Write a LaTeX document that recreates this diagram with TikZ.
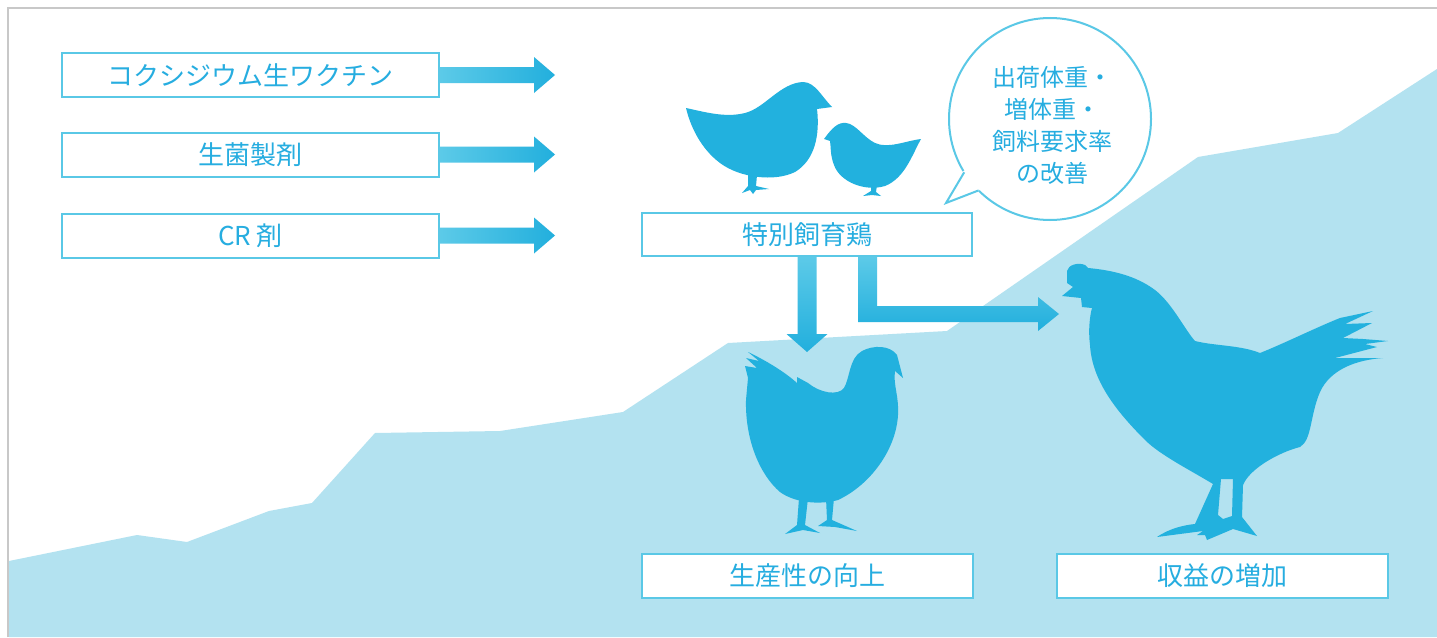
\documentclass[tikz,border=0pt]{standalone}
\usepackage{fontspec}
\setmainfont{Noto Sans CJK JP}
\usetikzlibrary{calc}
\definecolor{sky}{HTML}{B3E2F0}
\definecolor{bird}{HTML}{22B1DE}
\definecolor{ink}{HTML}{26ADE0}
\definecolor{edge}{HTML}{5AC8E6}
\definecolor{light}{HTML}{5CCAE8}
\definecolor{deep}{HTML}{22AFDD}
\definecolor{framegray}{HTML}{C8C8C8}
\begin{document}
\begin{tikzpicture}[x=1pt,y=-1pt,
  labelbox/.style={draw=edge, line width=2pt, fill=white, inner sep=0pt,
    minimum height=44pt, text=ink, font=\fontsize{26}{30}\selectfont},
  harrow/.style={left color=light, right color=deep},
  varrow/.style={top color=light, bottom color=deep},
  silhouette/.style={fill=bird}]
\useasboundingbox (0,0) rectangle (1437,637);
\fill[white] (0,0) rectangle (1437,637);

% rising background slope
\fill[sky] (9,561) -- (137,535) -- (187,542) -- (269,511) -- (312,503)
  -- (375,433) -- (500,431) -- (623,412) -- (728,343) -- (947,331)
  -- (1198,157) -- (1338,133) -- (1437,69) -- (1437,637) -- (9,637) -- cycle;

% frame on the left and top
\draw[framegray, line width=2pt] (8,637) -- (8,8) -- (1437,8);

% inputs
\node[labelbox, minimum width=377pt] (vac) at (250.5,75) {コクシジウム生ワクチン};
\node[labelbox, minimum width=377pt] (pro) at (250.5,154.5) {生菌製剤};
\node[labelbox, minimum width=377pt] (cr)  at (250.5,235.5) {CR 剤};
\foreach \n in {vac,pro,cr}
  \shade[harrow] ($(\n.east)+(0,-8)$) -- ++(94,0) -- ++(0,-10) -- ++(21,18)
    -- ++(-21,18) -- ++(0,-10) -- ++(-94,0) -- cycle;

% central box
\node[labelbox, minimum width=330pt, minimum height=43pt] (spec) at (807,234.5) {特別飼育鶏};

% arrow down to the hen
\shade[varrow] ($(spec.south)+(-9.5,0)$) -- ++(0,77) -- ++(-11,0) -- ++(20.5,18)
  -- ++(20.5,-18) -- ++(-11,0) -- ++(0,-77) -- cycle;
% bent arrow to the rooster
\shade[varrow] ($(spec.south)+(51,0)$) -- ++(19,0) -- ++(0,49) -- ++(161,0)
  -- ++(0,-9) -- ++(21,17) -- ++(-21,17) -- ++(0,-9) -- ++(-180,0) -- cycle;

% outcome boxes
\node[labelbox, minimum width=331pt] (prod) at (807.5,576) {生産性の向上};
\node[labelbox, minimum width=331pt] (gain) at (1222.5,576) {収益の増加};

% speech bubble
\node[circle, draw=edge, line width=2pt, fill=white, minimum size=202pt, inner sep=0pt] (bub) at (1050,119) {};
\fill[white] ($(bub.center)+(-88,53)$) -- ($(bub.center)+(-104,84)$)
  -- ($(bub.center)+(-73,74)$) -- ($(bub.center)+(-68,68)$) -- ($(bub.center)+(-83,50)$) -- cycle;
\draw[edge, line width=2pt] ($(bub.center)+(-85.8,53.3)$) -- ($(bub.center)+(-104,84)$)
  -- ($(bub.center)+(-71.4,71.4)$);
\node[text=ink, align=center, font=\fontsize{24}{32}\selectfont] (bubtxt) at (1052,125)
  {出荷体重・\\増体重・\\飼料要求率\\の改善};

% large chick
\fill[silhouette] (686,108) .. controls (705,112) and (725,118) .. (745,113)
  .. controls (765,108) and (780,83) .. (803,82)
  .. controls (815,82) and (822,97) .. (832,107) -- (817,109)
  .. controls (820,135) and (815,160) .. (795,172)
  .. controls (775,182) and (740,178) .. (720,163)
  .. controls (700,148) and (690,125) .. (686,108) -- cycle;
\fill[silhouette] (748,175) -- (757,175) -- (756,186) -- (769,189) -- (756,190)
  -- (753,194) -- (750,190) -- (742,193) -- (748,186) -- cycle;

% small chick
\fill[silhouette] (824,139) .. controls (832,128) and (838,122) .. (846,123)
  .. controls (856,124) and (863,137) .. (875,143)
  .. controls (888,149) and (905,141) .. (921,139)
  .. controls (912,155) and (905,178) .. (885,186)
  .. controls (865,192) and (840,182) .. (834,165)
  .. controls (830,155) and (831,146) .. (830,141) -- cycle;
\fill[silhouette] (871,185) -- (877,185) -- (876,192) -- (881,196) -- (872,195)
  -- (863,196) -- (871,191) -- cycle;

% hen
\fill[silhouette] (748,352) .. controls (765,360) and (785,372) .. (797,383)
  -- (797,377) -- (808,383)
  .. controls (820,393) and (838,396) .. (844,388)
  .. controls (850,378) and (849,358) .. (862,351)
  .. controls (873,345) and (890,345) .. (897,355)
  -- (903,378) -- (895,371)
  .. controls (893,385) and (899,395) .. (898,415)
  .. controls (896,450) and (870,485) .. (838,500)
  .. controls (820,505) and (795,503) .. (780,492)
  .. controls (760,475) and (745,440) .. (746,400)
  -- (748,378) -- (745,366) -- (757,368) -- (746,358) -- (759,361) -- cycle;
\fill[silhouette] (799,498) -- (808,498) -- (805,525) -- (820,533) -- (803,530)
  -- (785,534) -- (797,525) -- cycle;
\fill[silhouette] (826,498) -- (834,498) -- (832,520) -- (857,531) -- (835,527)
  -- (818,526) -- (827,520) -- cycle;

% rooster
\fill[silhouette, even odd rule] (1067,271) .. controls (1068,265) and (1078,262) .. (1085,265) -- (1088,268)
  .. controls (1110,270) and (1135,275) .. (1155,290)
  .. controls (1172,303) and (1185,330) .. (1195,341)
  .. controls (1215,346) and (1240,345) .. (1260,353)
  .. controls (1285,343) and (1315,328) .. (1340,318)
  -- (1373,311) -- (1345,324) -- (1372,323) -- (1343,338) -- (1363,339)
  -- (1388,341) -- (1365,344) -- (1377,347) -- (1335,358) -- (1383,358)
  .. controls (1355,360) and (1330,370) .. (1320,392)
  .. controls (1310,415) and (1312,440) .. (1300,447)
  .. controls (1280,452) and (1250,468) .. (1243,485)
  -- (1242,517) -- (1257,536) -- (1233,529) -- (1207,540) -- (1205,535)
  -- (1197,535) -- (1203,531) -- (1157,537)
  .. controls (1170,528) and (1185,525) .. (1195,524)
  -- (1213,484)
  .. controls (1190,470) and (1160,455) .. (1145,440)
  .. controls (1115,410) and (1092,380) .. (1090,345)
  .. controls (1088,330) and (1090,315) .. (1092,308)
  -- (1082,307) -- (1081,298) -- (1062,296) -- (1073,287) -- (1067,283) -- cycle
  (1221,479) -- (1233,479) -- (1232,516) -- (1223,519) -- (1218,515) -- cycle;
\end{tikzpicture}
\end{document}
